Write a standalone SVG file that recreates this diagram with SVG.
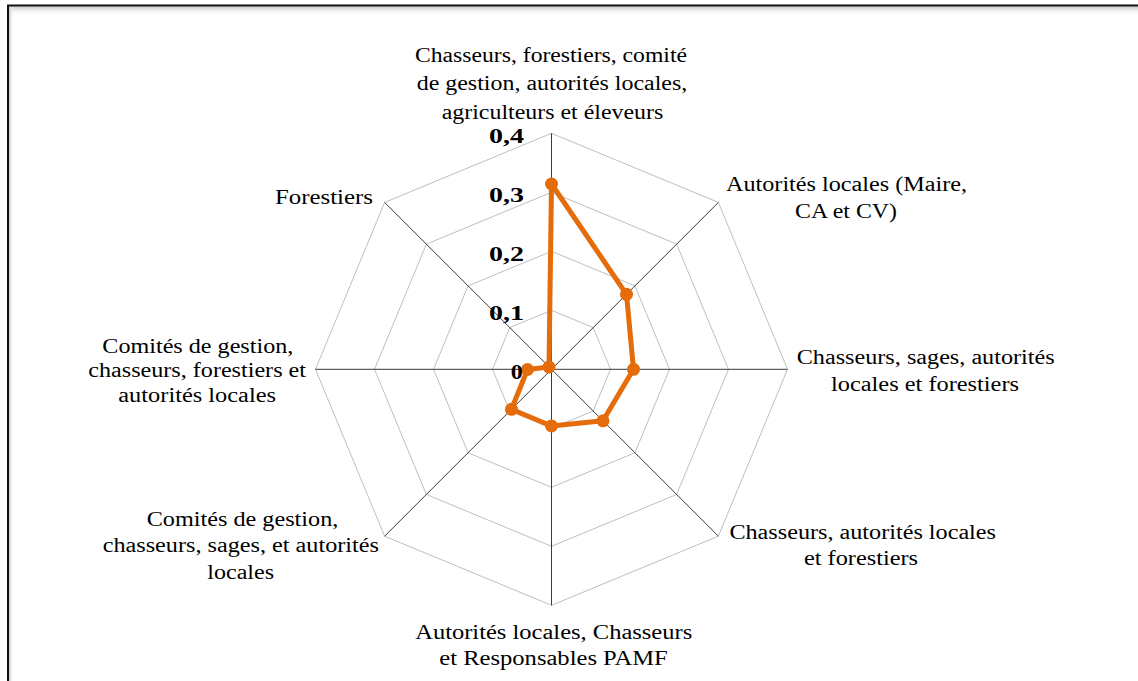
<svg xmlns="http://www.w3.org/2000/svg" width="1138" height="681" viewBox="0 0 1138 681">
<style>
.lbl{font-family:"Liberation Serif","Times New Roman",serif;font-size:20.5px;fill:#000}
.num{font-family:"Liberation Serif","Times New Roman",serif;font-size:22px;font-weight:bold;fill:#000}
.ring{fill:none;stroke:#bfbfbf;stroke-width:1}
.axis{stroke:#3a3a3a;stroke-width:1}
.series{fill:none;stroke:#e46c0a;stroke-width:5;stroke-linejoin:round}
.mk{fill:#e46c0a}
</style>
<defs>
<linearGradient id="shTop" x1="0" y1="0" x2="0" y2="1">
<stop offset="0" stop-color="#c8c8c8"/>
<stop offset="1" stop-color="#ffffff" stop-opacity="0"/>
</linearGradient>
<linearGradient id="shLeft" x1="0" y1="0" x2="1" y2="0">
<stop offset="0" stop-color="#c8c8c8"/>
<stop offset="1" stop-color="#ffffff" stop-opacity="0"/>
</linearGradient>
</defs>
<rect width="1138" height="681" fill="#fff"/>
<g id="frame">
<rect x="9" y="6.5" width="1140" height="9" fill="url(#shTop)"/>
<rect x="9" y="6.5" width="5" height="690" fill="url(#shLeft)"/>
<rect x="8" y="5.5" width="1150" height="700" fill="none" stroke="#111" stroke-width="2"/>
</g>
<g id="grid" transform="translate(551.5,369.3)">
<polygon class="ring" points="0,-59 41.72,-41.72 59,0 41.72,41.72 0,59 -41.72,41.72 -59,0 -41.72,-41.72"/>
<polygon class="ring" points="0,-118 83.44,-83.44 118,0 83.44,83.44 0,118 -83.44,83.44 -118,0 -83.44,-83.44"/>
<polygon class="ring" points="0,-177 125.16,-125.16 177,0 125.16,125.16 0,177 -125.16,125.16 -177,0 -125.16,-125.16"/>
<polygon class="ring" points="0,-236 166.88,-166.88 236,0 166.88,166.88 0,236 -166.88,166.88 -236,0 -166.88,-166.88"/>
</g>
<g id="connectors" transform="translate(551.5,369.3)">
<line class="axis" x1="0" y1="0" x2="0" y2="-236"/>
<line class="axis" x1="0" y1="0" x2="166.88" y2="-166.88"/>
<line class="axis" x1="0" y1="0" x2="236" y2="0"/>
<line class="axis" x1="0" y1="0" x2="166.88" y2="166.88"/>
<line class="axis" x1="0" y1="0" x2="0" y2="236"/>
<line class="axis" x1="0" y1="0" x2="-166.88" y2="166.88"/>
<line class="axis" x1="0" y1="0" x2="-236" y2="0"/>
<line class="axis" x1="0" y1="0" x2="-166.88" y2="-166.88"/>
</g>
<g id="series" transform="translate(551.5,369.3)">
<polygon class="series" points="0,-185.3 75,-75 82,0 51.5,51.5 0,56.7 -40,40 -24,0.2 -2.5,-2.3"/>
<circle class="mk" cx="0" cy="-185.3" r="6.5"/>
<circle class="mk" cx="75" cy="-75" r="6.5"/>
<circle class="mk" cx="82" cy="0" r="6.5"/>
<circle class="mk" cx="51.5" cy="51.5" r="6.5"/>
<circle class="mk" cx="0" cy="56.7" r="6.5"/>
<circle class="mk" cx="-40" cy="40" r="6.5"/>
<circle class="mk" cx="-24" cy="0.2" r="6.5"/>
<circle class="mk" cx="-2.5" cy="-2.3" r="6.5"/>
</g>
<g id="scale">
<text class="num" x="489" y="143" textLength="35" lengthAdjust="spacingAndGlyphs">0,4</text>
<text class="num" x="489" y="202" textLength="35" lengthAdjust="spacingAndGlyphs">0,3</text>
<text class="num" x="489" y="261" textLength="35" lengthAdjust="spacingAndGlyphs">0,2</text>
<text class="num" x="489" y="320" textLength="35" lengthAdjust="spacingAndGlyphs">0,1</text>
<text class="num" x="510.7" y="379" textLength="12" lengthAdjust="spacingAndGlyphs">0</text>
</g>
<g id="label-top">
<text class="lbl" x="415" y="61.5" textLength="272" lengthAdjust="spacingAndGlyphs">Chasseurs, forestiers, comité</text>
<text class="lbl" x="416.7" y="90" textLength="270.6" lengthAdjust="spacingAndGlyphs">de gestion, autorités locales,</text>
<text class="lbl" x="441.7" y="119" textLength="221.6" lengthAdjust="spacingAndGlyphs">agriculteurs et éleveurs</text>
</g>
<g id="label-ne">
<text class="lbl" x="726" y="190.5" textLength="241" lengthAdjust="spacingAndGlyphs">Autorités locales (Maire,</text>
<text class="lbl" x="795" y="217.5" textLength="102" lengthAdjust="spacingAndGlyphs">CA et CV)</text>
</g>
<g id="label-e">
<text class="lbl" x="796.7" y="364" textLength="258" lengthAdjust="spacingAndGlyphs">Chasseurs, sages, autorités</text>
<text class="lbl" x="831" y="390.5" textLength="188" lengthAdjust="spacingAndGlyphs">locales et forestiers</text>
</g>
<g id="label-se">
<text class="lbl" x="729.4" y="538.5" textLength="266.6" lengthAdjust="spacingAndGlyphs">Chasseurs, autorités locales</text>
<text class="lbl" x="804" y="564.5" textLength="114" lengthAdjust="spacingAndGlyphs">et forestiers</text>
</g>
<g id="label-s">
<text class="lbl" x="415.2" y="639" textLength="277" lengthAdjust="spacingAndGlyphs">Autorités locales, Chasseurs</text>
<text class="lbl" x="439.3" y="665" textLength="228.5" lengthAdjust="spacingAndGlyphs">et Responsables PAMF</text>
</g>
<g id="label-sw">
<text class="lbl" x="146.7" y="525.5" textLength="191.6" lengthAdjust="spacingAndGlyphs">Comités de gestion,</text>
<text class="lbl" x="102.7" y="552" textLength="276.3" lengthAdjust="spacingAndGlyphs">chasseurs, sages, et autorités</text>
<text class="lbl" x="207.3" y="578.5" textLength="66.7" lengthAdjust="spacingAndGlyphs">locales</text>
</g>
<g id="label-w">
<text class="lbl" x="102.3" y="352.7" textLength="191" lengthAdjust="spacingAndGlyphs">Comités de gestion,</text>
<text class="lbl" x="88.3" y="376.7" textLength="217.7" lengthAdjust="spacingAndGlyphs">chasseurs, forestiers et</text>
<text class="lbl" x="118.3" y="401.7" textLength="157.7" lengthAdjust="spacingAndGlyphs">autorités locales</text>
</g>
<g id="label-nw">
<text class="lbl" x="275" y="204" textLength="98" lengthAdjust="spacingAndGlyphs">Forestiers</text>
</g>
</svg>
